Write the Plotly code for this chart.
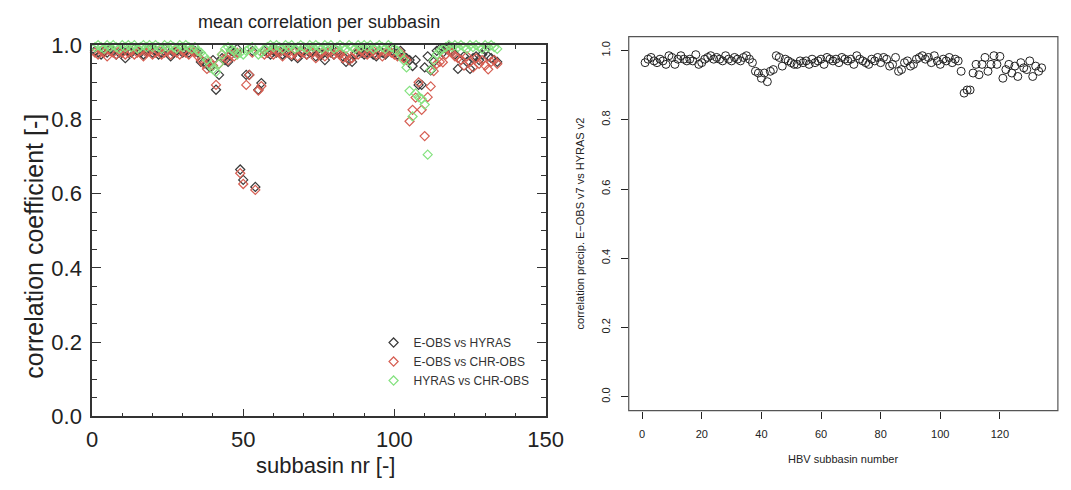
import plotly.graph_objects as go

W, H = 1071, 490

# ---------------- data ----------------
subbasin = list(range(1, 135))

eobs_hyras = [
    0.985, 0.98, 0.975, 0.985, 0.98, 0.99, 0.985, 0.975, 0.98, 0.985,
    0.965, 0.985, 0.98, 0.99, 0.985, 0.98, 0.975, 0.985, 0.99, 0.98,
    0.985, 0.975, 0.98, 0.99, 0.985, 0.97, 0.98, 0.985, 0.99, 0.98,
    0.985, 0.98, 0.99, 0.985, 0.98, 0.955, 0.955, 0.95, 0.94, 0.96,
    0.88, 0.92, 0.965, 0.96, 0.955, 0.985, 0.98, 0.99, 0.665, 0.637,
    0.92, 0.92, 0.985, 0.618, 0.88, 0.898, 0.985, 0.98, 0.975, 0.985,
    0.98, 0.985, 0.975, 0.98, 0.99, 0.97, 0.985, 0.965, 0.98, 0.985,
    0.975, 0.98, 0.985, 0.97, 0.98, 0.975, 0.96, 0.985, 0.98, 0.975,
    0.985, 0.98, 0.97, 0.955, 0.96, 0.955, 0.975, 0.985, 0.98, 0.975,
    0.98, 0.985, 0.975, 0.97, 0.985, 0.98, 0.975, 0.985, 0.99, 0.98,
    0.975, 0.985, 0.97, 0.965, 0.96, 0.944, 0.96, 0.893, 0.893, 0.94,
    0.97, 0.932, 0.955, 0.985, 0.99, 0.98, 0.99, 0.995, 0.985, 0.975,
    0.936, 0.96, 0.97, 0.955, 0.936, 0.965, 0.97, 0.96, 0.975, 0.987,
    0.97, 0.965, 0.96, 0.955,
]

eobs_chr = [
    0.98, 0.975, 0.985, 0.98, 0.97, 0.985, 0.98, 0.975, 0.985, 0.98,
    0.975, 0.98, 0.985, 0.975, 0.98, 0.985, 0.97, 0.98, 0.985, 0.975,
    0.98, 0.985, 0.975, 0.98, 0.985, 0.975, 0.985, 0.98, 0.975, 0.985,
    0.98, 0.975, 0.985, 0.98, 0.97, 0.96, 0.95, 0.936, 0.955, 0.945,
    0.893, 0.95, 0.975, 0.966, 0.96, 0.975, 0.97, 0.98, 0.655, 0.626,
    0.893, 0.92, 0.98, 0.61, 0.878, 0.89, 0.975, 0.98, 0.985, 0.975,
    0.985, 0.98, 0.97, 0.985, 0.98, 0.975, 0.98, 0.97, 0.985, 0.98,
    0.975, 0.985, 0.98, 0.965, 0.975, 0.98, 0.97, 0.98, 0.985, 0.975,
    0.98, 0.975, 0.965, 0.97, 0.96, 0.965, 0.98, 0.975, 0.985, 0.98,
    0.975, 0.98, 0.985, 0.975, 0.98, 0.97, 0.98, 0.985, 0.98, 0.975,
    0.97, 0.98, 0.965, 0.96, 0.795, 0.826, 0.859, 0.9, 0.826, 0.755,
    0.86, 0.889, 0.93, 0.95, 0.955, 0.954, 0.975, 0.985, 0.98, 0.97,
    0.965, 0.96, 0.945, 0.97, 0.955, 0.94, 0.965, 0.95, 0.96, 0.945,
    0.935, 0.955, 0.96, 0.95,
]

hyras_chr = [
    0.995, 1.0, 0.995, 0.99, 1.0, 0.995, 1.0, 0.995, 0.99, 1.0,
    0.995, 1.0, 0.995, 1.0, 0.99, 0.995, 1.0, 0.995, 1.0, 0.995,
    1.0, 0.995, 0.99, 1.0, 0.995, 1.0, 0.995, 0.99, 1.0, 0.995,
    1.0, 0.995, 0.99, 0.995, 0.985, 0.98, 0.97, 0.96, 0.945, 0.935,
    0.928, 0.95, 0.975, 0.99, 0.995, 0.99, 0.985, 0.975, 0.98, 0.975,
    0.985, 0.99, 0.995, 0.985, 0.975, 0.98, 0.99, 0.995, 1.0, 0.995,
    1.0, 0.995, 0.99, 1.0, 0.995, 1.0, 0.99, 0.995, 1.0, 0.995,
    0.99, 1.0, 0.995, 1.0, 0.995, 0.99, 1.0, 0.995, 1.0, 0.99,
    0.995, 1.0, 0.995, 0.99, 1.0, 0.995, 0.99, 1.0, 0.995, 1.0,
    0.995, 1.0, 0.99, 0.995, 1.0, 0.995, 0.99, 1.0, 0.995, 0.99,
    0.985, 0.975, 0.96, 0.94, 0.877, 0.808, 0.87, 0.86, 0.855, 0.84,
    0.705, 0.934, 0.96, 0.975, 0.985, 0.99, 0.995, 1.0, 0.995, 1.0,
    0.995, 1.0, 0.995, 0.99, 1.0, 0.995, 1.0, 0.995, 0.99, 1.0,
    0.995, 1.0, 0.995, 0.99,
]

hbv_corr = [
    0.965, 0.975, 0.98, 0.97, 0.965, 0.975, 0.97, 0.96, 0.985, 0.98,
    0.96, 0.975, 0.985, 0.975, 0.97, 0.975, 0.97, 0.988, 0.96, 0.965,
    0.975, 0.98, 0.985, 0.975, 0.98, 0.975, 0.97, 0.985, 0.975, 0.97,
    0.98, 0.975, 0.97, 0.98, 0.985, 0.975, 0.965, 0.94, 0.935, 0.92,
    0.935, 0.91, 0.94, 0.945, 0.985, 0.98, 0.955, 0.975, 0.97, 0.965,
    0.96, 0.96, 0.97, 0.965, 0.97, 0.96, 0.975, 0.965, 0.97, 0.975,
    0.96, 0.98, 0.975, 0.97, 0.975, 0.965, 0.98, 0.975, 0.97, 0.975,
    0.96, 0.985, 0.975, 0.97, 0.965, 0.96, 0.975, 0.97, 0.98, 0.965,
    0.98, 0.975, 0.955, 0.96, 0.98, 0.94, 0.945, 0.965, 0.97, 0.955,
    0.96, 0.975, 0.98, 0.985, 0.975, 0.98, 0.965, 0.985, 0.97, 0.96,
    0.975, 0.97, 0.98, 0.965, 0.975, 0.97, 0.94, 0.877, 0.886, 0.886,
    0.935, 0.96, 0.93, 0.96, 0.98, 0.94, 0.96, 0.985, 0.96, 0.983,
    0.92, 0.945, 0.96, 0.935, 0.955, 0.925, 0.965, 0.95, 0.945, 0.97,
    0.925, 0.955, 0.94, 0.95,
]

left_x_ticks = [0, 50, 100, 150]
left_y_ticks = [0.0, 0.2, 0.4, 0.6, 0.8, 1.0]
right_x_ticks = [0, 20, 40, 60, 80, 100, 120]
right_y_ticks = [0.0, 0.2, 0.4, 0.6, 0.8, 1.0]
y_tick_text = ["0.0", "0.2", "0.4", "0.6", "0.8", "1.0"]

series = [
    ("E-OBS vs HYRAS", eobs_hyras, "#3a3a3a"),
    ("E-OBS vs CHR-OBS", eobs_chr, "#d65e52"),
    ("HYRAS vs CHR-OBS", hyras_chr, "#84e27f"),
]

# ---------------- geometry (pixels) ----------------
def px(x):
    return x / W

def py(y):
    return 1 - y / H

L_left, L_right, L_top, L_bot = 88, 552, 35, 426
R_left, R_top, R_bot = 637, 26, 420
R_x0_px, R_px_per_unit = 650.7, 3.05
r_xmin = (R_left - R_x0_px) / R_px_per_unit
r_xmax = (W - R_x0_px) / R_px_per_unit

FAM = "Liberation Sans, Arial, sans-serif"

fig = go.Figure()

for name, vals, col in series:
    fig.add_trace(go.Scatter(
        x=subbasin, y=vals, mode="markers", name=name,
        marker=dict(symbol="diamond-open", size=7, color=col, line=dict(width=1.2, color=col)),
        xaxis="x", yaxis="y", cliponaxis=False,
    ))

fig.add_trace(go.Scatter(
    x=subbasin, y=hbv_corr, mode="markers", showlegend=False,
    marker=dict(symbol="circle-open", size=8, color="#222", line=dict(width=1, color="#222")),
    xaxis="x2", yaxis="y2",
))

axcol = "#333"
left_font = dict(family=FAM, size=22, color="#222")
right_font = dict(family=FAM, size=11, color="#222")

fig.update_layout(
    width=W, height=H,
    margin=dict(l=0, r=0, t=0, b=0),
    paper_bgcolor="white", plot_bgcolor="white",
    showlegend=True,
    legend=dict(
        x=px(376), y=py(333), xanchor="left", yanchor="top",
        bgcolor="rgba(0,0,0,0)", borderwidth=0,
        font=dict(family=FAM, size=12, color="#333"),
        tracegroupgap=0, itemwidth=30,
    ),
    xaxis=dict(
        domain=[px(L_left), px(L_right)], range=[0, 150], anchor="y",
        tickvals=left_x_ticks, ticks="inside", ticklen=8, tickwidth=1.2, tickcolor=axcol,
        minor=dict(ticks="inside", dtick=10, ticklen=4, tickcolor=axcol, tickwidth=1),
        showline=True, linecolor=axcol, linewidth=1.5, mirror="allticks",
        showgrid=False, zeroline=False, tickfont=left_font, ticklabelstandoff=3,
    ),
    yaxis=dict(
        domain=[py(L_bot), py(L_top)], range=[0, 1.0], anchor="x",
        tickvals=left_y_ticks, ticktext=y_tick_text,
        ticks="inside", ticklen=9, tickwidth=1.2, tickcolor=axcol,
        minor=dict(ticks="inside", dtick=0.05, ticklen=5, tickcolor=axcol, tickwidth=1),
        showline=True, linecolor=axcol, linewidth=1.5, mirror="allticks",
        showgrid=False, zeroline=False, tickfont=left_font, ticklabelstandoff=4,
    ),
    xaxis2=dict(
        domain=[px(R_left), 1.0], range=[r_xmin, r_xmax], anchor="y2",
        tickvals=right_x_ticks, ticks="outside", ticklen=7, tickwidth=1, tickcolor="#222",
        showline=False, showgrid=False, zeroline=False, tickfont=right_font,
        ticklabelstandoff=6,
    ),
    yaxis2=dict(
        domain=[py(R_bot), py(R_top)], range=[-0.04, 1.04], anchor="x2",
        tickvals=right_y_ticks, ticktext=y_tick_text,
        ticks="outside", ticklen=7, tickwidth=1, tickcolor="#222", tickangle=-90,
        showline=False, showgrid=False, zeroline=False, tickfont=right_font,
        ticklabelstandoff=6,
    ),
    shapes=[
        dict(type="rect", xref="paper", yref="paper",
             x0=px(R_left), x1=px(1076), y0=py(R_bot), y1=py(R_top),
             line=dict(color="#555", width=1.2), fillcolor="rgba(0,0,0,0)"),
    ],
    annotations=[
        dict(text="mean correlation per subbasin", x=px(320), y=py(11), xref="paper", yref="paper",
             showarrow=False, xanchor="center", yanchor="middle",
             font=dict(family=FAM, size=18, color="#222")),
        dict(text="correlation coefficient [-]", x=px(29), y=py(247), xref="paper", yref="paper",
             showarrow=False, xanchor="center", yanchor="middle", textangle=-90,
             font=dict(family=FAM, size=25, color="#222")),
        dict(text="subbasin nr [-]", x=px(327), y=py(478), xref="paper", yref="paper",
             showarrow=False, xanchor="center", yanchor="middle",
             font=dict(family=FAM, size=22, color="#222")),
        dict(text="correlation precip. E\u2212OBS v7 vs HYRAS v2", x=px(587), y=py(223), xref="paper", yref="paper",
             showarrow=False, xanchor="center", yanchor="middle", textangle=-90,
             font=dict(family=FAM, size=11, color="#222")),
        dict(text="HBV subbasin number", x=px(856), y=py(471), xref="paper", yref="paper",
             showarrow=False, xanchor="center", yanchor="middle",
             font=dict(family=FAM, size=11, color="#222")),
    ],
)

fig.write_html("out.html")
